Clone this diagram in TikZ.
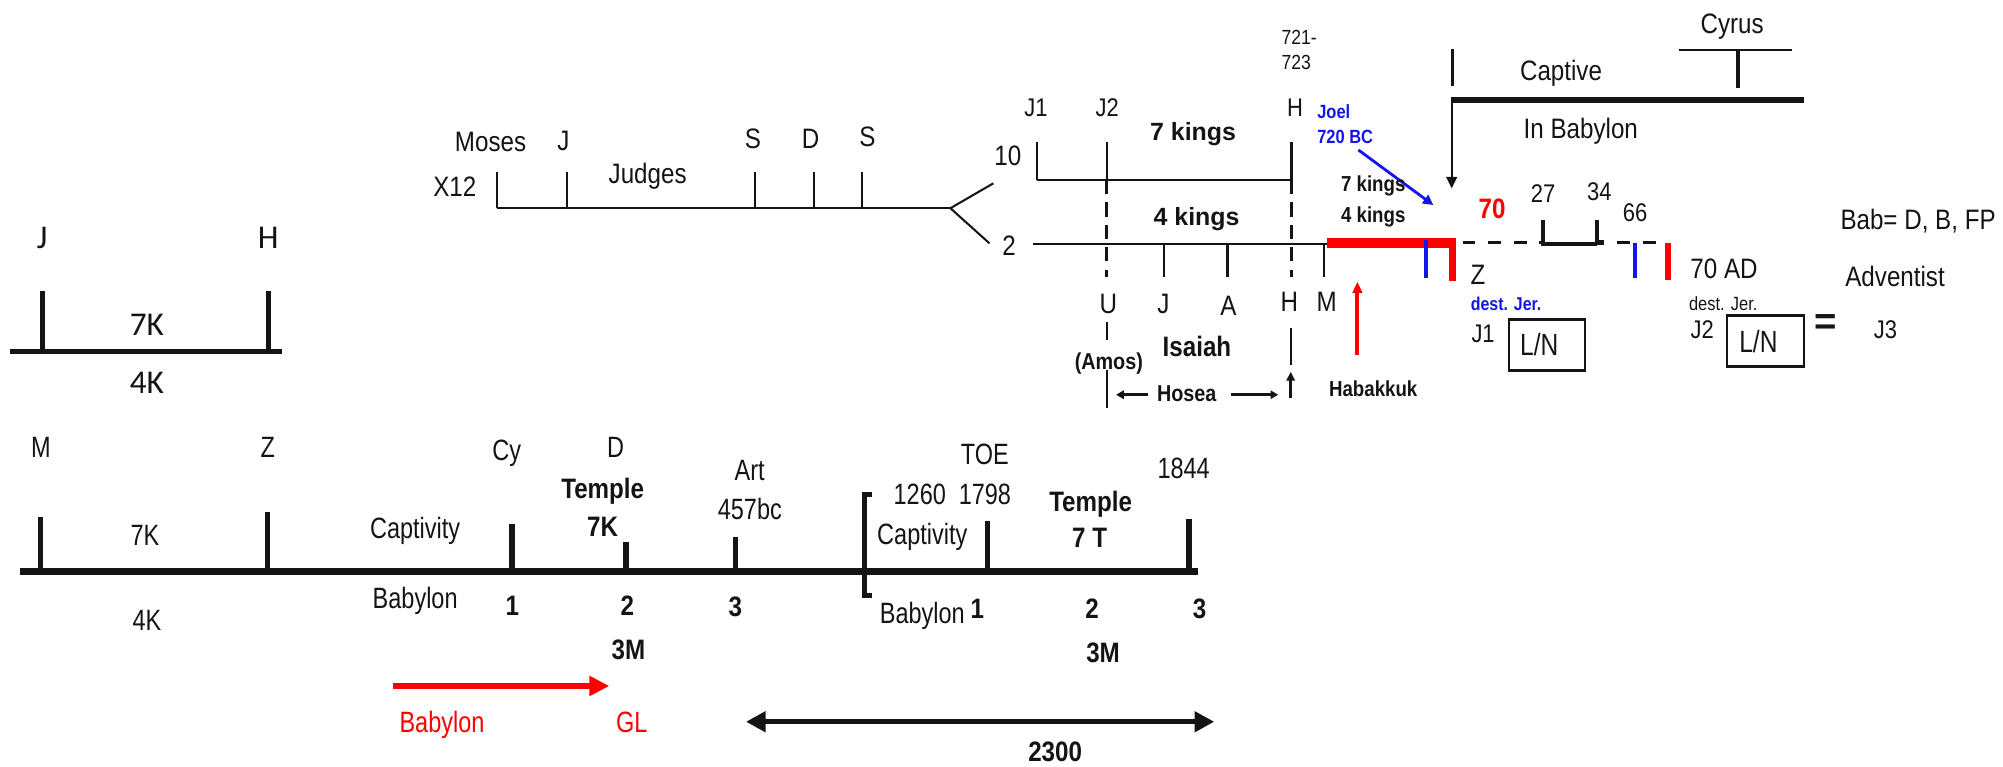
\documentclass[tikz,border=0pt]{standalone}
\usepackage{fontspec}
\setmainfont{Liberation Sans}
\newfontfamily\nf{Liberation Sans}[FakeStretch=0.86]
\newfontfamily\nnf{Liberation Sans}[FakeStretch=0.8]
\newfontfamily\cf{Carlito}
\usetikzlibrary{arrows.meta}
\newcommand{\fsz}[1]{\fontsize{#1}{#1}\selectfont}
\definecolor{myred}{RGB}{255,0,0}
\definecolor{myblue}{RGB}{20,20,235}
\definecolor{ink}{RGB}{20,20,20}
\begin{document}
\begin{tikzpicture}[x=1pt,y=-1pt,
  tx/.style={inner sep=0pt,anchor=base,text=ink,font={\nf\fsz{#1}},yshift={-0.36*#1pt}},
  tb/.style={inner sep=0pt,anchor=base,text=ink,font={\nf\bfseries\fsz{#1}},yshift={-0.36*#1pt}},
  tw/.style={inner sep=0pt,anchor=base,text=ink,font={\bfseries\fsz{#1}},yshift={-0.36*#1pt}},
  bx/.style={inner sep=0pt,anchor=base,text=ink,font={\nnf\fsz{#1}},yshift={-0.36*#1pt}},
  cx/.style={inner sep=0pt,anchor=base,text=ink,font={\cf\fsz{#1}},yshift={-0.32*#1pt}},
  ln/.style={draw=ink,line width=#1},
  rd/.style={draw=myred,line width=#1},
  bl/.style={draw=myblue,line width=#1},
]
\useasboundingbox (0,0) rectangle (1568,600);

% ---------- small left diagram ----------
\node[cx=26] (mJ) at (33,186) {J};
\node[cx=26] (mH) at (210,186) {H};
\draw[ln=3.7] (8,275) -- (221,275);
\draw[ln=3.7] (33,228) -- (33,275);
\draw[ln=3.7] (210,228) -- (210,275);
\node[cx=26] (m7K) at (115,254) {7K};
\node[cx=26] (m4K) at (115,300) {4K};

% ---------- X12 line ----------
\node[tx=22] (moses) at (384,111) {Moses};
\node[tx=22] (xJ) at (441,110) {J};
\node[tx=22] (judges) at (507,136) {Judges};
\node[tx=22] (x12) at (356,146) {X12};
\node[tx=22] (xS1) at (589.5,108) {S};
\node[tx=22] (xD) at (634.5,108) {D};
\node[tx=22] (xS2) at (679,107) {S};
\draw[ln=1.6] (389,163) -- (744,163);
\foreach \x in {389,443.6,591,637.3,674.8} \draw[ln=1.6] (\x,134.4) -- (\x,163);
\draw[ln=1.6] (777.6,143.5) -- (744,163) -- (774.6,190.5);
\node[tx=22] (ten) at (789,122) {10};
\node[tx=22] (two) at (790,192) {2};

% ---------- kings ----------
\node[tx=16,anchor=base west] (y721) at (1003,28.7) {721-};
\node[tx=16,anchor=base west] (y723) at (1003,48.3) {723};
\node[tx=20] (kJ1) at (811,84) {J1};
\node[tx=20] (kJ2) at (866.7,84) {J2};
\node[tx=20] (kH) at (1013.8,84) {H};
\node[tw=19.5] (k7) at (934,103) {7 kings};
\node[tw=19.5] (k4) at (936.7,169.6) {4 kings};
\draw[ln=2] (812,141) -- (1011,141);
\foreach \x in {812,866.4,1011} \draw[ln=1.8] (\x,111) -- (\x,141);
\draw[ln=2] (809,191) -- (1039,191);
\draw[ln=2.6,dash pattern=on 11pt off 6.5pt] (866.4,141) -- (866.4,217);
\draw[ln=2.6,dash pattern=on 11pt off 6.5pt] (1011,141) -- (1011,217);
\foreach \x in {911,961,1036.5} \draw[ln=1.8] (\x,191) -- (\x,217);
\draw[rd=8] (1039,190) -- (1139.5,190);
\draw[rd=5] (1137,190) -- (1137,220);
\draw[bl=3] (1116,188) -- (1116,218);
\node[tx=22] (lU) at (867.7,237.5) {U};
\node[tx=22] (lJ) at (910.7,237.5) {J};
\node[tx=22] (lA) at (961.6,238.8) {A};
\node[tx=22] (lH) at (1009.3,236) {H};
\node[tx=22] (lM) at (1038.6,236) {M};
\draw[ln=1.8] (866.4,252) -- (866.4,266);
\draw[ln=1.8] (866.4,289.7) -- (866.4,319.5);
\draw[ln=1.8] (1010.4,257) -- (1010.4,286);
\draw[ln=2.2,-{Triangle[length=7pt,width=6.5pt]}] (1010.4,311.6) -- (1010.4,291);
\node[tb=18] (amos) at (868,283) {(Amos)};
\node[tb=22] (isaiah) at (937,271.5) {Isaiah};
\node[tb=18] (hosea) at (929,308) {Hosea};
\draw[ln=2.2,-{Triangle[length=6pt,width=6.5pt]}] (899,309) -- (873.7,309);
\draw[ln=2.2,-{Triangle[length=6pt,width=6.5pt]}] (964,309) -- (1000.6,309);
\draw[rd=3,-{Triangle[length=9pt,width=7.5pt]}] (1062.6,278) -- (1062.6,220.5);
\node[tb=17] (habakkuk) at (1075,304) {Habakkuk};
\node[tb=15,text=myblue,anchor=base west] (joel) at (1031,87.4) {Joel};
\node[tb=15,text=myblue,anchor=base west] (bc720) at (1031,107) {720 BC};
\draw[bl=2.2,-{Triangle[length=8pt,width=8pt]}] (1063.4,117.4) -- (1122,160.5);
\node[tb=17] (s7) at (1075,143.5) {7 kings};
\node[tb=17] (s4) at (1075,168.3) {4 kings};

% ---------- captive ----------
\draw[ln=2.5] (1137,38.6) -- (1137,67.3);
\draw[ln=4] (1135.5,78.3) -- (1412,78.3);
\draw[ln=1.8,-{Triangle[length=9pt,width=8.4pt]}] (1136.4,80) -- (1136.4,147.4);
\node[tx=22] (captive) at (1222,55) {Captive};
\node[tx=22] (inbab) at (1237.5,100.5) {In Babylon};
\node[tx=22] (cyrus) at (1356,18) {Cyrus};
\draw[ln=2] (1314,39) -- (1403,39);
\draw[ln=2.5] (1360.6,40) -- (1360.6,69);

% ---------- 70 weeks ----------
\node[tb=22,text=myred] (seventy) at (1168,163) {70};
\node[tx=20] (n27) at (1208,151) {27};
\node[tx=20] (n34) at (1252,150) {34};
\node[tx=20] (n66) at (1280,166) {66};
\draw[ln=2.5,dash pattern=on 10pt off 10pt] (1145,190) -- (1206,190);
\draw[ln=3.5] (1208,172) -- (1208,191) -- (1250,191);
\draw[ln=3.5] (1250,172) -- (1250,190) -- (1256,190);
\draw[ln=2.5,dash pattern=on 10pt off 10pt] (1266,190) -- (1306,190);
\draw[bl=3] (1280,190) -- (1280,218);
\draw[rd=4.5] (1306,190) -- (1306,219);
\node[tx=22] (z) at (1157,215) {Z};
\node[tb=14.5,text=myblue] (dest1) at (1179,238) {dest. Jer.};
\node[tx=20] (j1) at (1161,261) {J1};
\draw[ln=1.8] (1181,250) rectangle (1241,290);
\node[bx=24] (ln1) at (1205,270) {L/N};
\node[tx=22] (ad70) at (1349.6,210) {70 AD};
\node[tx=15] (dest2) at (1349,237.5) {dest. Jer.};
\node[tx=20] (j2) at (1332.6,258) {J2};
\draw[ln=1.8] (1351.7,247) rectangle (1412.3,287);
\node[bx=24] (ln2) at (1376.5,267.5) {L/N};
\node[tw=30] (eq) at (1429,251) {=};
\node[tx=20] (j3) at (1476,258) {J3};
\node[tx=22] (bab) at (1501.5,172) {Bab= D, B, FP};
\node[tx=22] (adv) at (1483.5,216.6) {Adventist};

% ---------- bottom timeline ----------
\draw[ln=5.5] (15.7,447.5) -- (937.8,447.5);
\foreach \x/\t in {32/404.5,209.6/400.6,400.8/410,490/424,575.6/420,772.7/408,930.8/406}
  \draw[ln=4] (\x,\t) -- (\x,446);
\node[bx=23] (bM) at (32,349.7) {M};
\node[bx=23] (bZ) at (209.6,349.7) {Z};
\node[bx=23] (bCy) at (396.7,352) {Cy};
\node[bx=23] (bD) at (482,349.7) {D};
\node[bx=23] (b7K) at (113.5,418.8) {7K};
\node[bx=23] (b4K) at (115,485.4) {4K};
\node[bx=23] (bcap1) at (325,413.5) {Captivity};
\node[bx=23] (bbab1) at (325,468) {Babylon};
\node[tb=22] (btemp1) at (471.8,382) {Temple};
\node[tb=22] (bt7K) at (471.8,412) {7K};
\node[tb=22] (b1a) at (401,473.6) {1};
\node[tb=22] (b2a) at (491,473.6) {2};
\node[tb=22] (b3Ma) at (492,508) {3M};
\node[tb=22] (b3a) at (575.6,475) {3};
\node[bx=23] (bart) at (586.8,368) {Art};
\node[bx=23] (b457) at (587,398) {457bc};
\draw[ln=3.7] (683,387) -- (676.5,387) -- (676.5,466) -- (683,466);
\node[bx=23] (b1260) at (720,387) {1260};
\node[bx=23] (b1798) at (771,387) {1798};
\node[bx=23] (btoe) at (771,355) {TOE};
\node[bx=23] (bcap2) at (722,418) {Captivity};
\node[bx=23] (bbab2) at (722,480) {Babylon};
\node[tb=22] (b1b) at (765,476) {1};
\node[tb=22] (btemp2) at (853.8,392.7) {Temple};
\node[tb=22] (b7T) at (853,421) {7 T};
\node[tb=22] (b2b) at (855,476) {2};
\node[tb=22] (b3Mb) at (863.5,511) {3M};
\node[bx=23] (b1844) at (926.6,366.5) {1844};
\node[tb=22] (b3b) at (939,476) {3};
\draw[rd=5.2,-{Triangle[length=15.7pt,width=15pt]}] (307.6,537) -- (477,537);
\node[bx=23,text=myred] (rbab) at (346,565) {Babylon};
\node[bx=23,text=myred] (rgl) at (494.5,565) {GL};
\draw[ln=3.7,{Triangle[length=15.4pt,width=15.7pt]}-{Triangle[length=15.4pt,width=15.7pt]}] (584,565) -- (950.5,565);
\node[tb=22] (b2300) at (826,588.5) {2300};
\end{tikzpicture}
\end{document}
